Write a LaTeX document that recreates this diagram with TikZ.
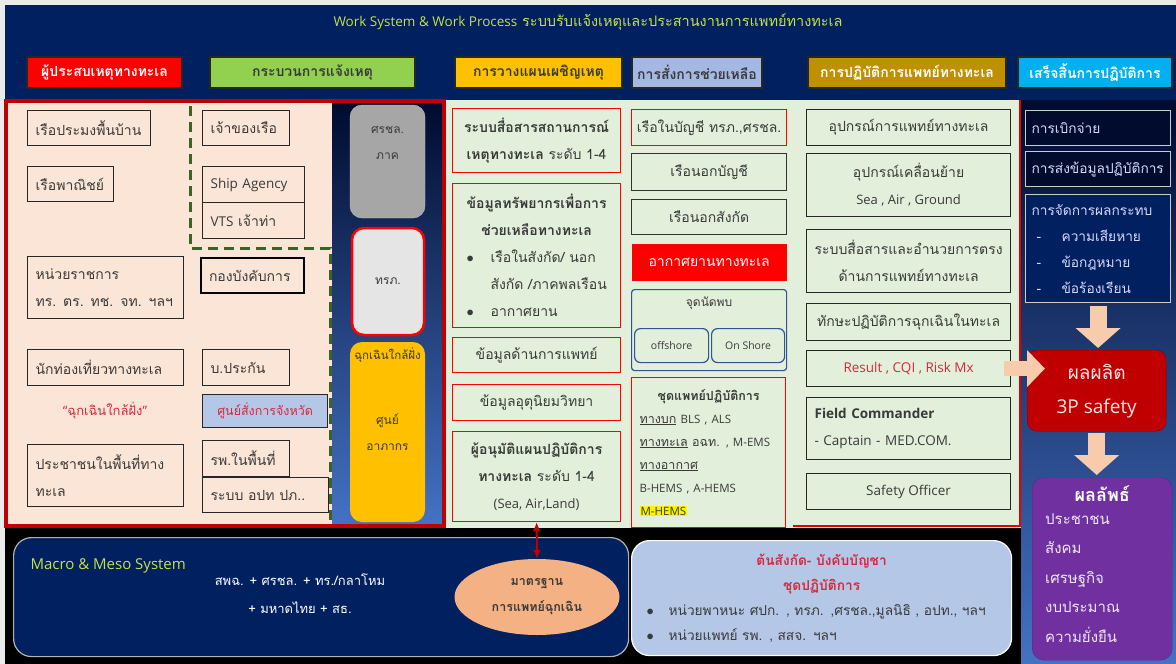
\documentclass[tikz,border=0pt]{standalone}
\usepackage{fontspec}
\setmainfont[Script=Thai]{Loma}
\newfontfamily\lat{Open Sans}
\usepackage{tikz}
\usetikzlibrary{positioning,arrows.meta,shapes.geometric}
\definecolor{navy}{HTML}{002060}
\definecolor{deepnavy}{HTML}{000B2E}
\definecolor{midblue}{HTML}{4472C4}
\definecolor{peach}{HTML}{FBE5D6}
\definecolor{panelgreen}{HTML}{E2EFDA}
\definecolor{darkred}{HTML}{C00000}
\definecolor{hdrgreen}{HTML}{92D050}
\definecolor{amber}{HTML}{FFC000}
\definecolor{periwinkle}{HTML}{A4B8E4}
\definecolor{gold}{HTML}{BF9000}
\definecolor{skyblue}{HTML}{00B0F0}
\definecolor{lime}{HTML}{C6E04A}
\definecolor{txtgray}{HTML}{3A3A3A}
\definecolor{dashgreen}{HTML}{3B6324}
\definecolor{paleblue}{HTML}{B4C7E7}
\definecolor{salmon}{HTML}{F4B183}
\definecolor{arrowpeach}{HTML}{F8CBAD}
\definecolor{plum}{HTML}{7030A0}
\definecolor{rosered}{HTML}{D6283C}
\definecolor{meetblue}{HTML}{2F5597}
\tikzset{
  hdr/.style={draw=black!85,line width=1.2pt,minimum height=31pt,inner sep=0pt,font=\fontsize{14}{16}\selectfont\bfseries},
  vbox/.style={draw=black!85,line width=1.2pt,anchor=north west,align=left,inner xsep=8pt,inner ysep=0pt,minimum height=35pt,text=txtgray},
  stripbox/.style={rounded corners=12pt,minimum width=75pt,inner sep=0pt,text=txtgray,align=center,font=\fontsize{12}{26}\selectfont},
  pbox/.style={draw=red,line width=1.2pt,anchor=north west,align=center,minimum width=168pt,inner sep=0pt,text=txtgray},
  cbox/.style={draw=black!80,line width=1.2pt,anchor=north west,align=center,minimum width=155pt,minimum height=36pt,inner sep=0pt,text=txtgray},
  obox/.style={draw=black!85,line width=1.2pt,anchor=north west,align=center,minimum width=204pt,minimum height=36pt,inner sep=0pt,text=txtgray},
  rbox/.style={draw=black!20,line width=1.2pt,fill=deepnavy,anchor=north west,align=left,text width=133pt,inner xsep=6pt,minimum height=35pt,text=white!85!blue,font=\fontsize{13.7}{26}\selectfont},
  latin/.style={font=\lat\fontsize{13.5}{27}\selectfont},
  fatarrow/.style={arrowpeach,line width=17pt,-{Triangle[length=20pt,width=44pt]}},
  twoway/.style={darkred,line width=2pt,{Latex[length=9pt,width=8pt]}-{Latex[length=9pt,width=8pt]}}
}
\begin{document}
\begin{tikzpicture}[x=1pt,y=-1pt,font=\fontsize{14}{27}\selectfont]
\useasboundingbox (0,0) rectangle (1176,664);
% backgrounds
\fill[black!8] (0,0) rectangle (1176,664);
\fill[navy] (5,5) rectangle (1176,100);
\fill[black] (5,528) rectangle (1021,664);
\shade[top color=deepnavy,bottom color=midblue] (1021,100) rectangle (1176,664);
\fill[panelgreen] (446,100) rectangle (1021,527);
\draw[red!90!black,line width=1.5pt] (1020,100) -- (1020,526) -- (793,526);

% title and column heads
\node[text=lime,font=\fontsize{14.5}{16}\selectfont] (title) at (588,22)
  {{\lat\fontsize{13.5}{16}\selectfont Work System \& Work Process} ระบบรับแจ้งเหตุและประสานงานการแพทย์ทางทะเล};
\node[hdr,fill=red,text=white,minimum width=155pt] (victim) at (104.5,72.5) {ผู้ประสบเหตุทางทะเล};
\node[hdr,fill=hdrgreen,text=txtgray,minimum width=205pt] (notify) at (312.5,72.5) {กระบวนการแจ้งเหตุ};
\node[hdr,fill=amber,text=txtgray,minimum width=167pt] (plan) at (538.5,72.5) {การวางแผนเผชิญเหตุ};
\node[hdr,fill=periwinkle,text=txtgray,minimum width=130pt] (order) at (697,72.5) {การสั่งการช่วยเหลือ};
\node[hdr,fill=gold,text=white,minimum width=198pt] (medops) at (907,72.5) {การปฏิบัติการแพทย์ทางทะเล};
\node[hdr,fill=skyblue,text=white,minimum width=154pt] (closing) at (1095,72.5) {เสร็จสิ้นการปฏิบัติการ};

% reporting side
\fill[peach] (8,103) rectangle (332,524);
\shade[top color=deepnavy,bottom color=midblue] (332,103) rectangle (442,524);
\draw[darkred,line width=4pt] (6,101) rectangle (444,526);
\draw[dashgreen,line width=3pt,dash pattern=on 10pt off 6pt] (190,106) -- (190,248) -- (330,248) -- (330,522);

\node[vbox,text width=107pt] (fishing) at (27,110) {เรือประมงพื้นบ้าน};
\node[vbox,text width=70pt] (merchant) at (27,166) {เรือพาณิชย์};
\node[vbox,text width=140pt,minimum height=62pt] (govt) at (27,256) {หน่วยราชการ\\ทร. ตร. ทช. จท. ฯลฯ};
\node[vbox,text width=140pt,minimum height=36pt] (tourist) at (27,349) {นักท่องเที่ยวทางทะเล};
\node[text=rosered,font=\fontsize{13}{16}\selectfont] (nearshore) at (105,411) {{\lat “}ฉุกเฉินใกล้ฝั่ง{\lat ”}};
\node[vbox,text width=140pt,minimum height=62pt] (locals) at (27,444) {ประชาชนในพื้นที่ทาง\\ทะเล};
\node[vbox,text width=71pt] (owner) at (202,110) {เจ้าของเรือ};
\node[vbox,latin,text width=86pt,minimum height=36pt] (agency) at (202,166) {Ship Agency};
\node[vbox,text width=86pt,minimum height=36pt] (vts) at (202,202) {{\lat\fontsize{13.5}{27}\selectfont VTS} เจ้าท่า};
\node[vbox,text width=87pt,line width=2pt,draw=black] (command) at (200,257) {กองบังคับการ};
\node[vbox,text width=71pt,minimum height=36pt] (insurer) at (202,349) {บ.ประกัน};
\node[vbox,text width=109pt,minimum height=33pt,fill=paleblue,align=center,text=rosered,font=\fontsize{12.5}{27}\selectfont] (provcenter) at (202,394) {ศูนย์สั่งการจังหวัด};
\node[vbox,text width=71pt,minimum height=36pt] (hosp) at (202,440) {รพ.ในพื้นที่};
\node[vbox,text width=110pt] (localgov) at (202,477) {ระบบ อปท ปภ..};

\node[stripbox,fill=black!35,draw=black!25,minimum height=113pt] (srchl) at (387.5,161.5) {};
\node[stripbox,below=21pt of srchl.north] (srchltext) {ศรชล.\\ภาค};
\node[stripbox,fill=black!10,draw=red,line width=2.5pt,minimum width=72pt,minimum height=107pt] (trp) at (388,281.5) {ทรภ.};
\node[stripbox,fill=amber,minimum height=180pt] (apakorn) at (387.5,432) {ศูนย์\\อาภากร};
\node[text=txtgray,below=6pt of apakorn.north,inner sep=0pt,font=\fontsize{11.5}{14}\selectfont] (apakorntag) {ฉุกเฉินใกล้ฝั่ง};

% planning
\node[pbox,minimum height=64pt] (sitcom) at (452,108) {\textbf{ระบบสื่อสารสถานการณ์}\\\textbf{เหตุทางทะเล} ระดับ 1-4};
\node[pbox,minimum height=144pt,align=left,text width=152pt,inner xsep=8pt] (resource) at (452,183)
  {\makebox[152pt]{\textbf{ข้อมูลทรัพยากรเพื่อการ}}\\
   \makebox[152pt]{\textbf{ช่วยเหลือทางทะเล}}\\
   \hspace*{6pt}\makebox[24pt][l]{$\bullet$}เรือในสังกัด/ นอก\\
   \hspace*{30pt}สังกัด /ภาคพลเรือน\\
   \hspace*{6pt}\makebox[24pt][l]{$\bullet$}อากาศยาน};
\node[pbox,minimum height=35pt] (medinfo) at (452,337) {ข้อมูลด้านการแพทย์};
\node[pbox,minimum height=36pt] (meteo) at (452,384) {ข้อมูลอุตุนิยมวิทยา};
\node[pbox,minimum height=90pt] (approver) at (452,431)
  {\textbf{ผู้อนุมัติแผนปฏิบัติการ}\\\textbf{ทางทะเล} ระดับ 1-4\\{\lat\fontsize{13}{27}\selectfont (Sea, Air,Land)}};

% commanding
\node[cbox,draw=red] (listed) at (631,109) {เรือในบัญชี ทรภ.,ศรชล.};
\node[cbox,minimum height=37pt] (unlisted) at (631,153) {เรือนอกบัญชี};
\node[cbox,minimum height=35pt] (outside) at (631,199) {เรือนอกสังกัด};
\node[cbox,draw=none,fill=red,text=white,minimum height=37pt] (aircraft) at (631,243) {อากาศยานทางทะเล};
\node[cbox,draw=meetblue,rounded corners=3pt,minimum height=81pt] (meet) at (631,289) {};
\node[text=txtgray,below=8pt of meet.north,inner sep=0pt,font=\fontsize{12}{14}\selectfont] (meettext) {จุดนัดพบ};
\node[cbox,draw=meetblue,rounded corners=6pt,minimum width=74pt,minimum height=34pt,font=\lat\fontsize{10.5}{14}\selectfont] (offshore) at (634,328) {offshore};
\node[cbox,draw=meetblue,rounded corners=6pt,minimum width=73pt,minimum height=34pt,font=\lat\fontsize{10.5}{14}\selectfont] (onshore) at (711,328) {On Shore};
\node[cbox,draw=red,minimum width=154pt,minimum height=150pt,align=left,text width=138pt,inner xsep=8pt,font=\fontsize{12.5}{23}\selectfont] (medteam) at (631,377)
  {\makebox[138pt]{\textbf{ชุดแพทย์ปฏิบัติการ}}\\
   \underline{ทางบก} {\lat\fontsize{11.5}{23}\selectfont BLS , ALS}\\
   \underline{ทางทะเล} อฉท. {\lat\fontsize{11.5}{23}\selectfont , M-EMS}\\
   \underline{ทางอากาศ}\\
   {\lat\fontsize{11.5}{23}\selectfont B-HEMS , A-HEMS}\\
   {\fboxsep=1pt\colorbox{yellow}{\lat\fontsize{11.5}{23}\selectfont M-HEMS}}};

% medical operations
\node[obox] (medequip) at (806,109) {อุปกรณ์การแพทย์ทางทะเล};
\node[obox,minimum height=63pt] (transport) at (806,153) {อุปกรณ์เคลื่อนย้าย\\{\lat\fontsize{13}{27}\selectfont Sea , Air , Ground}};
\node[obox,minimum height=63pt] (medcomm) at (806,229) {ระบบสื่อสารและอำนวยการตรง\\ด้านการแพทย์ทางทะเล};
\node[obox,minimum height=37pt] (skills) at (806,303) {ทักษะปฏิบัติการฉุกเฉินในทะเล};
\node[obox,latin,text=rosered] (result) at (806,350) {Result , CQI , Risk Mx};
\node[obox,latin,minimum height=62pt,align=left,text width=188pt,inner xsep=8pt] (fieldcmd) at (806,397)
  {{\bfseries Field Commander}\\- Captain - MED.COM.};
\node[obox,latin] (safety) at (806,473) {Safety Officer};

% closing
\node[rbox] (disburse) at (1025,110) {การเบิกจ่าย};
\node[rbox] (report) at (1025,151) {การส่งข้อมูลปฏิบัติการ};
\node[rbox,fill=navy,minimum height=108pt] (impact) at (1025,194)
  {การจัดการผลกระทบ\\
   \hspace*{5pt}\makebox[25pt][l]{-}ความเสียหาย\\
   \hspace*{5pt}\makebox[25pt][l]{-}ข้อกฎหมาย\\
   \hspace*{5pt}\makebox[25pt][l]{-}ข้อร้องเรียน};
\node[draw=darkred!70!black,fill=darkred,rounded corners=10pt,anchor=north west,minimum width=139pt,minimum height=81pt,align=center,text=white!90!red,font=\fontsize{19}{34}\selectfont] (output) at (1027,350)
  {ผลผลิต\\{\lat\fontsize{19}{34}\selectfont 3P safety}};
\node[fill=plum,draw=plum!80!black,rounded corners=12pt,anchor=north west,minimum width=140pt,minimum height=183pt] (outcome) at (1032,477) {};
\node[below=5pt of outcome.north,text=white,font=\fontsize{18}{20}\selectfont\bfseries] (outcometitle) {ผลลัพธ์};
\node[anchor=north west,align=left,inner sep=0pt,text=white!88!plum,font=\fontsize{15}{29.5}\selectfont] (outcomelist) at ([xshift=13pt,yshift=-36pt]outcome.north west)
  {ประชาชน\\สังคม\\เศรษฐกิจ\\งบประมาณ\\ความยั่งยืน};

% national level
\node[draw=black!30,fill=navy,line width=1.2pt,rounded corners=18pt,anchor=north west,minimum width=615pt,minimum height=119pt] (macro) at (13,537) {};
\node[anchor=west,text=lime,font=\lat\fontsize{15}{18}\selectfont] (macrotitle) at ([xshift=14pt,yshift=-29pt]macro.north west) {Macro \& Meso System};
\node[text=white,align=center,font=\fontsize{13}{28}\selectfont] (agencies) at (300,594) {สพฉ. + ศรชล. + ทร./กลาโหม\\+ มหาดไทย + สธ.};
\node[ellipse,fill=salmon,minimum width=165pt,minimum height=76pt,inner sep=0pt,align=center,text=txtgray,font=\fontsize{12.5}{26}\selectfont\bfseries] (standard) at (537,597)
  {มาตรฐาน\\การแพทย์ฉุกเฉิน};
\node[draw=white!70,fill=paleblue,line width=1.2pt,rounded corners=18pt,anchor=north west,minimum width=380pt,minimum height=115pt,align=left,text width=360pt,inner xsep=10pt,text=txtgray,font=\fontsize{13.7}{25}\selectfont] (units) at (631,540)
  {\makebox[360pt]{\textcolor{rosered}{\bfseries ต้นสังกัด- บังคับบัญชา}}\\
   \makebox[360pt]{\textcolor{rosered}{\bfseries ชุดปฏิบัติการ}}\\
   \hspace*{5pt}\makebox[22pt][l]{$\bullet$}หน่วยพาหนะ ศปก. , ทรภ. ,ศรชล.,มูลนิธิ , อปท., ฯลฯ\\
   \hspace*{5pt}\makebox[22pt][l]{$\bullet$}หน่วยแพทย์ รพ. , สสจ. ฯลฯ};

% connectors
\draw[twoway] (approver.south) -- (standard.north);
\draw[fatarrow,shorten <=3pt,shorten >=2pt] (impact.south) -- (impact.south |- output.north);
\draw[fatarrow,shorten <=2pt,shorten >=2pt] (output.south) -- (output.south |- outcome.north);
\draw[fatarrow,line width=15pt,-{Triangle[length=18pt,width=36pt]}] ([xshift=-7pt]result.east) -- ([xshift=18pt]output.west |- result.east);
\end{tikzpicture}
\end{document}
